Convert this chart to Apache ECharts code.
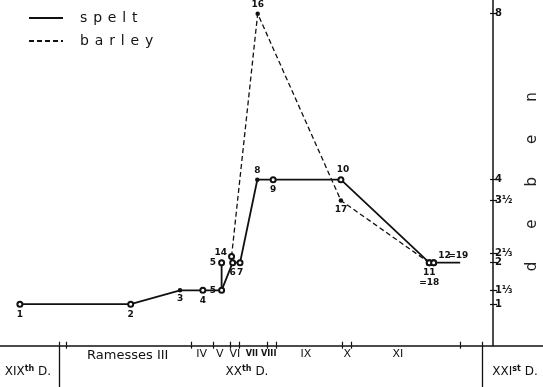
<!DOCTYPE html>
<html><head><meta charset="utf-8">
<script src="https://cdn.jsdelivr.net/npm/echarts@6/dist/echarts.min.js"></script>
<style>html,body{margin:0;padding:0;background:#fff}#c{width:543px;height:387px}</style>
</head><body><div id="c"></div>
<script>
// Time axis: years BC; value axis: deben
const speltYears  = [1210.6, 1180.5, 1167.1, 1160.9, 1155.8, 1152.8, 1150.8, 1146.1, 1141.8, 1123.4, 1099.4, 1098.2, 1091.0];
const speltDeben  = [1, 1, 4/3, 4/3, 4/3, 2, 2, 4, 4, 4, 2, 2, 2];
const speltLabels = ['1','2','3','4','5','6','7','8','9','10','11','12',''];
const speltAltYears  = [1155.8, 1155.8];
const speltAltDeben  = [4/3, 2];
const speltAltLabels = ['', '5'];
const barleyYears  = [1153.1, 1146.0, 1123.4, 1099.4, 1098.2];
const barleyDeben  = [2.15, 8, 3.5, 2, 2];
const barleyLabels = ['14','16','17','=18','=19'];

const reignBounds = [1198, 1164, 1158, 1153.5, 1151, 1143.5, 1141, 1123, 1120.5, 1091];
const dynastyBounds = [1200, 1085];
const reignNames = ['Ramesses III','IV','V','VI','VII','VIII','IX','X','XI'];
const reignLabelYears = [1181.3, 1161.2, 1156.3, 1152.2, 1147.6, 1143.0, 1132.9, 1121.7, 1107.9];
const dynastyNames = ['XIX','XX','XXI'];
const dynastySup = ['th','th','st'];
const dynastyLabelYears = [1208.4, 1148.9, 1076.1];
const debenTicks = [1, 4/3, 2, 2.22, 3.5, 4, 8];
const debenTickLabels = ['1','1⅓','2','2⅓','3½','4','8'];

// ---- styling (not data) ----
const FONT = 'DejaVu Sans';
const NARROW = '"Liberation Sans Narrow", "DejaVu Sans Condensed", "DejaVu Sans"';
const INK = '#111';
const filledPoints = ['3','8','16','17'];
const labelPlacement = {
  '5':  {position:'left', distance:2},
  '8':  {position:'top', distance:2},
  '10': {position:'top', distance:2, offset:[2,0]},
  '16': {position:'top', distance:2},
  '12': {position:'right', distance:1, offset:[0,-7]},
  '=19':{position:'right', distance:1, offset:[10,-7]},
  '=18':{position:'bottom', distance:2, offset:[0,10]},
  '14': {position:'left', distance:1, offset:[0,-4]}
};
function nearestIdx(arr, v){let b=0;for(let i=1;i<arr.length;i++){if(Math.abs(arr[i]-v)<Math.abs(arr[b]-v))b=i;}return b;}
function makeData(xs, ys, labels){
  return xs.map((x,i)=>{
    const lab = labels[i];
    const place = labelPlacement[lab] || {position:'bottom', distance:2};
    const filled = filledPoints.indexOf(lab) >= 0;
    const hidden = lab === '' ;
    return {
      value:[x, ys[i]],
      symbol: hidden ? 'none' : (filled ? 'circle' : 'emptyCircle'),
      symbolSize: filled ? 4.5 : 5,
      label: Object.assign({show: !hidden, formatter: lab, fontFamily: FONT, fontSize: 9, fontWeight: 'bold', color: INK}, place)
    };
  });
}
const spaced = s => s.split('').join(' \u200A');

const xBase = {type:'value', min:1068.5, max:1216, inverse:true, position:'bottom', gridIndex:0,
  splitLine:{show:false}};

const option = {
  animation:false,
  backgroundColor:'#fff',
  grid:{left:0, right:0, top:0, bottom:41.3, containLabel:false, outerBoundsMode:'none'},
  legend:{
    orient:'vertical', left:28, top:10, padding:0, itemWidth:34, itemHeight:14, itemGap:7,
    data:['spelt','barley'],
    itemStyle:{opacity:0},
    formatter: name => spaced(name),
    textStyle:{fontFamily:FONT, fontSize:14, color:INK, padding:[0,0,0,12], lineHeight:16}
  },
  xAxis:[
    Object.assign({}, xBase, {
      axisLine:{show:true, onZero:false, lineStyle:{color:INK, width:1.6}},
      axisTick:{show:true, inside:true, length:4, customValues: reignBounds.concat(dynastyBounds), lineStyle:{color:INK, width:1.2}},
      axisLabel:{show:true, margin:3, customValues: reignLabelYears,
        formatter: v => { const n = reignNames[nearestIdx(reignLabelYears, v)]; return n.length > 4 ? '{b|' + n + '}' : (n.length > 2 && n !== 'XI' ? '{s|' + n + '}' : '{m|' + n + '}'); },
        rich:{ b:{fontFamily:FONT, fontSize:13, color:INK},
               m:{fontFamily:FONT, fontSize:11, color:INK},
               s:{fontFamily:NARROW, fontSize:9, fontWeight:'bold', color:INK} }
      }
    }),
    Object.assign({}, xBase, {
      axisLine:{show:false, onZero:false},
      axisTick:{show:true, inside:false, length:3, customValues: reignBounds, lineStyle:{color:INK, width:1.2}},
      axisLabel:{show:true, margin:19, customValues: dynastyLabelYears,
        formatter: v => { const i = nearestIdx(dynastyLabelYears, v); return '{a|' + dynastyNames[i] + '}{s|' + dynastySup[i] + '}{a| D.}'; },
        rich:{ a:{fontFamily:FONT, fontSize:12, color:INK, lineHeight:15}, s:{fontFamily:FONT, fontSize:8, fontWeight:'bold', color:INK, verticalAlign:'top', lineHeight:15} }
      }
    }),
    Object.assign({}, xBase, {
      axisLine:{show:false, onZero:false},
      axisTick:{show:true, inside:false, length:42, customValues: dynastyBounds, lineStyle:{color:INK, width:1.3}},
      axisLabel:{show:false}
    })
  ],
  yAxis:[
    {type:'value', min:0, max:8.33, position:'right', offset:-50, splitLine:{show:false},
      axisLine:{show:true, onZero:false, lineStyle:{color:INK, width:1.5}},
      axisTick:{show:true, inside:false, length:4, customValues: debenTicks, lineStyle:{color:INK, width:1.2}},
      axisLabel:{show:true, margin:2, customValues: debenTicks, fontFamily:FONT, fontSize:10, fontWeight:'bold', color:INK,
        formatter: v => debenTickLabels[nearestIdx(debenTicks, v)]},
      name: 'deben'.split('').join('\u2003\u2003\u2009') + '\u2003\u2009',
      nameLocation:'middle', nameRotate:90, nameGap:32,
      nameTextStyle:{fontFamily:FONT, fontSize:15, color:'#222'}
    },
    {type:'value', min:0, max:8.33, position:'right', offset:-50, splitLine:{show:false},
      axisLine:{show:false, onZero:false},
      axisTick:{show:true, inside:true, length:3, customValues: debenTicks, lineStyle:{color:INK, width:1.2}},
      axisLabel:{show:false}
    }
  ],
  series:[
    {name:'spelt', type:'line', xAxisIndex:0, yAxisIndex:0, symbol:'emptyCircle',
      lineStyle:{color:INK, width:1.8}, itemStyle:{color:INK, borderWidth:1.2},
      data: makeData(speltYears, speltDeben, speltLabels), z:3},
    {name:'spelt-alt', type:'line', xAxisIndex:0, yAxisIndex:0, symbol:'emptyCircle',
      lineStyle:{color:INK, width:1.8}, itemStyle:{color:INK, borderWidth:1.2},
      data: makeData(speltAltYears, speltAltDeben, speltAltLabels), z:3},
    {name:'barley', type:'line', xAxisIndex:0, yAxisIndex:0, symbol:'emptyCircle',
      lineStyle:{color:INK, width:1.3, type:[5,3]}, itemStyle:{color:INK, borderWidth:1.2},
      data: makeData(barleyYears, barleyDeben, barleyLabels), z:2}
  ]
};
const chart = echarts.init(document.getElementById('c'), null, {renderer:'canvas'});
chart.setOption(option);
</script></body></html>
